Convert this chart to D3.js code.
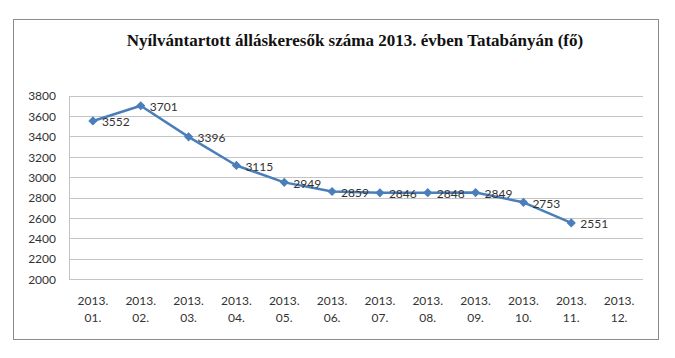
<!DOCTYPE html>
<html><head><meta charset="utf-8">
<script src="https://cdn.jsdelivr.net/npm/d3@7"></script>
<style>body{margin:0;background:#fff}svg{display:block}</style>
</head><body>
<script>
const title = "Nyílvántartott álláskeresők száma 2013. évben Tatabányán (fő)";
const categories = ["01.","02.","03.","04.","05.","06.","07.","08.","09.","10.","11.","12."];
const yearLabel = "2013.";
const values = [3552,3701,3396,3115,2949,2859,2846,2848,2849,2753,2551,null];
const yTicks = [2000,2200,2400,2600,2800,3000,3200,3400,3600,3800];

(function(){
const W=675,H=358;
const svg=d3.select("body").append("svg").attr("width",W).attr("height",H);
svg.append("rect").attr("x",13.5).attr("y",19.5).attr("width",645).attr("height",320)
  .attr("fill","#fff").attr("stroke","#8c8c8c").attr("stroke-width",1);

svg.append("text").attr("x",355).attr("y",46).attr("text-anchor","middle")
  .attr("font-family","Liberation Serif").attr("font-weight","bold").attr("font-size",17)
  .attr("fill","#111").text(title);

const pl=69,pr=643,pt=95.7,pb=279;
const x=d3.scaleBand().domain(categories).range([pl,pr]);
const y=d3.scaleLinear().domain([2000,3800]).range([pb,pt]);

const g=svg.append("g");
g.selectAll("line.grid").data(yTicks).join("line").attr("class","grid")
  .attr("x1",pl).attr("x2",pr).attr("y1",d=>Math.round(y(d))+0.5).attr("y2",d=>Math.round(y(d))+0.5)
  .attr("stroke","#c4c4c4").attr("stroke-width",1);
g.append("line").attr("x1",pl+0.5).attr("x2",pl+0.5).attr("y1",Math.round(pt)+0.5).attr("y2",Math.round(pb)+0.5)
  .attr("stroke","#c4c4c4");

const yAxis=d3.axisLeft(y).tickValues(yTicks).tickSize(0).tickPadding(0).tickFormat(d3.format("d"));
const ya=svg.append("g").attr("transform","translate(56,0)").call(yAxis);
ya.select(".domain").remove();
ya.selectAll("text").attr("font-family","Lato").attr("font-size",12).attr("fill","#333").attr("dy","0.35em");

const xa=svg.append("g");
categories.forEach(c=>{
  const cx=x(c)+x.bandwidth()/2;
  const t=xa.append("text").attr("text-anchor","middle").attr("font-family","Lato").attr("font-size",12).attr("fill","#333");
  t.append("tspan").attr("x",cx).attr("y",305).text(yearLabel);
  t.append("tspan").attr("x",cx).attr("y",322).text(c);
});

const pts=categories.map((c,i)=>({c,v:values[i]})).filter(d=>d.v!=null);
const cxf=d=>x(d.c)+x.bandwidth()/2;
svg.append("path").datum(pts).attr("fill","none").attr("stroke","#4a7ebb").attr("stroke-width",2.5)
  .attr("stroke-linejoin","round")
  .attr("d",d3.line().x(cxf).y(d=>y(d.v)));
svg.selectAll("path.m").data(pts).join("path").attr("class","m")
  .attr("d",d3.symbol(d3.symbolSquare,42)())
  .attr("transform",d=>`translate(${cxf(d)},${y(d.v)}) rotate(45)`).attr("fill","#4a7ebb");
svg.selectAll("text.lbl").data(pts).join("text").attr("class","lbl")
  .attr("x",d=>cxf(d)+9).attr("y",d=>y(d.v)+1).attr("dy","0.35em")
  .attr("font-family","Lato").attr("font-size",12).attr("fill","#333").text(d=>d.v);
})();
</script>
</body></html>
